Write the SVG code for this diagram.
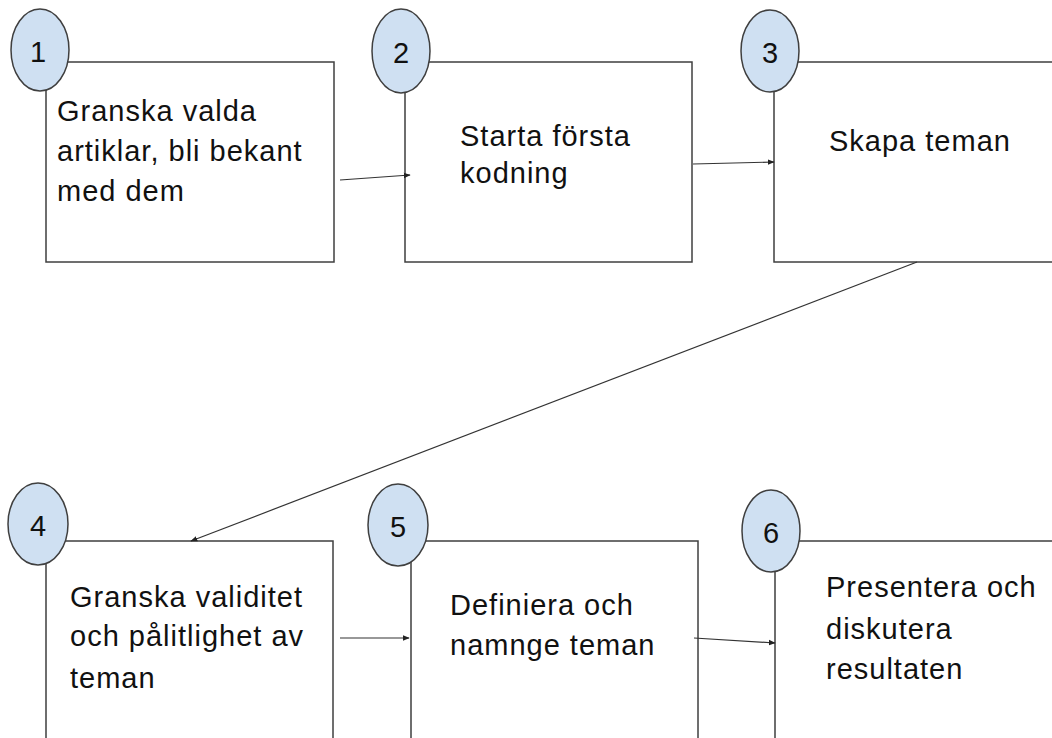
<svg xmlns="http://www.w3.org/2000/svg" width="1052" height="738" viewBox="0 0 1052 738">
<style>
.box{fill:#fff;stroke:#3f3f3f;stroke-width:1.5}
.num{fill:#cfe0f2;stroke:#3f3f3f;stroke-width:1.5}
.t{font-family:"Liberation Sans",Arial,sans-serif;font-size:29px;fill:#111;letter-spacing:1px}
.n{font-family:"Liberation Sans",Arial,sans-serif;font-size:29px;fill:#111;text-anchor:middle}
.c{stroke:#333;stroke-width:1.2;fill:none;marker-end:url(#ah)}
</style>
<defs>
<marker id="ah" viewBox="0 0 10 10" refX="9" refY="5" markerWidth="7" markerHeight="7" markerUnits="userSpaceOnUse" orient="auto">
<path d="M0,1 L10,5 L0,9 Z" fill="#222"/>
</marker>
</defs>
<rect width="1052" height="738" fill="#fff"/>
<g id="node1">
<rect class="box" x="46" y="62" width="288" height="200"/>
<ellipse class="num" cx="40" cy="50" rx="29" ry="41"/>
<text class="n" x="38" y="62">1</text>
<text class="t" x="57" y="121">Granska valda</text>
<text class="t" x="57" y="161">artiklar, bli bekant</text>
<text class="t" x="57" y="201">med dem</text>
</g>
<g id="node2">
<rect class="box" x="405" y="62" width="287" height="200"/>
<ellipse class="num" cx="401" cy="51" rx="29" ry="42"/>
<text class="n" x="401" y="63">2</text>
<text class="t" x="460" y="146">Starta första</text>
<text class="t" x="460" y="183">kodning</text>
</g>
<g id="node3">
<rect class="box" x="774" y="62" width="300" height="200"/>
<ellipse class="num" cx="770" cy="51" rx="29" ry="41"/>
<text class="n" x="770" y="63">3</text>
<text class="t" x="829" y="151">Skapa teman</text>
</g>
<g id="node4">
<rect class="box" x="46" y="541" width="287" height="220"/>
<ellipse class="num" cx="38" cy="524" rx="30" ry="41"/>
<text class="n" x="38" y="536">4</text>
<text class="t" x="70" y="607">Granska validitet</text>
<text class="t" x="70" y="646">och pålitlighet av</text>
<text class="t" x="70" y="688">teman</text>
</g>
<g id="node5">
<rect class="box" x="411" y="541" width="287" height="220"/>
<ellipse class="num" cx="398" cy="525" rx="30" ry="41"/>
<text class="n" x="398" y="537">5</text>
<text class="t" x="450" y="615">Definiera och</text>
<text class="t" x="450" y="655">namnge teman</text>
</g>
<g id="node6">
<rect class="box" x="775" y="541" width="300" height="220"/>
<ellipse class="num" cx="771" cy="531" rx="29" ry="41"/>
<text class="n" x="771" y="543">6</text>
<text class="t" x="826" y="597">Presentera och</text>
<text class="t" x="826" y="639">diskutera</text>
<text class="t" x="826" y="679">resultaten</text>
</g>
<g id="connectors">
<line class="c" x1="340" y1="180" x2="410" y2="175"/>
<line class="c" x1="693" y1="164" x2="774" y2="162"/>
<line class="c" x1="917" y1="262" x2="191" y2="541"/>
<line class="c" x1="340" y1="638" x2="409" y2="638"/>
<line class="c" x1="694" y1="638" x2="775" y2="643"/>
</g>
</svg>
